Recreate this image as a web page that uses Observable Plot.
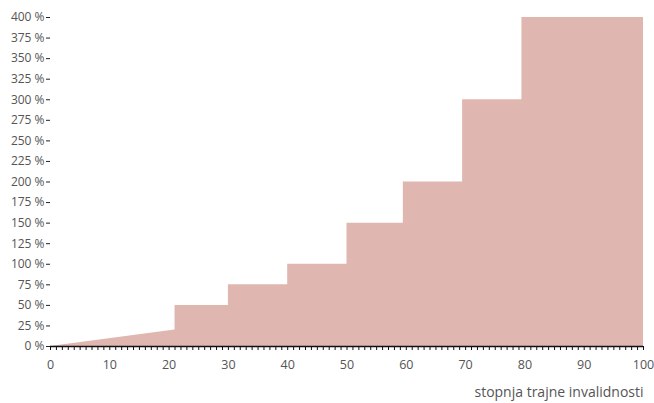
<!DOCTYPE html>
<html>
<head>
<meta charset="utf-8">
<script src="https://cdn.jsdelivr.net/npm/d3@7"></script>
<script src="https://cdn.jsdelivr.net/npm/@observablehq/plot@0.6"></script>
<style>
  body { margin: 0; background: #fff; }
  #chart { width: 654px; height: 403px; }
  svg { font-family: "Open Sans", sans-serif; }
</style>
</head>
<body>
<div id="chart"></div>
<script>
// Degree of permanent disability (%) -> payout (% of sum insured), breakpoints
const disability = [0, 21, 21, 30, 30, 40, 40, 50, 50, 59.5, 59.5, 69.5, 69.5, 79.5, 79.5, 100];
const payout     = [0, 20, 50, 50, 75, 75, 100, 100, 150, 150, 200, 200, 300, 300, 400, 400];
const yTicks = [0, 25, 50, 75, 100, 125, 150, 175, 200, 225, 250, 275, 300, 325, 350, 375, 400];
const xMajorTicks = [0, 10, 20, 30, 40, 50, 60, 70, 80, 90, 100];
const xMinorTicks = d3.range(0, 101, 1);
const xLabel = "stopnja trajne invalidnosti";

const data = disability.map((x, i) => ({x, y: payout[i]}));

const chart = Plot.plot({
  width: 654,
  height: 403,
  marginTop: 17,
  marginBottom: 57,
  marginLeft: 50,
  marginRight: 11,
  style: {fontFamily: "Open Sans, sans-serif", fontSize: "12px", color: "#555"},
  x: {domain: [0, 100]},
  y: {domain: [0, 400]},
  marks: [
    Plot.areaY(data, {x: "x", y1: 0, y2: "y", fill: "#dfb6b0"}),
    Plot.axisY({ticks: yTicks, tickFormat: d => d + " %", tickSize: 4, tickPadding: 2, label: null, stroke: "#222", fill: "#555", fontSize: 12}),
    Plot.axisX({ticks: xMinorTicks, tickSize: 4, text: null, label: null, stroke: "#111"}),
    Plot.axisX({ticks: xMajorTicks, tickSize: 0, tickPadding: 14, label: null, fill: "#555", fontSize: 12.5}),
    Plot.ruleY([0], {stroke: "#111", strokeWidth: 1.5}),
    Plot.text([xLabel], {frameAnchor: "bottom-right", dy: 50, text: d => d, fontSize: 14, fill: "#555", textAnchor: "end"})
  ]
});
document.getElementById("chart").append(chart);
</script>
</body>
</html>
